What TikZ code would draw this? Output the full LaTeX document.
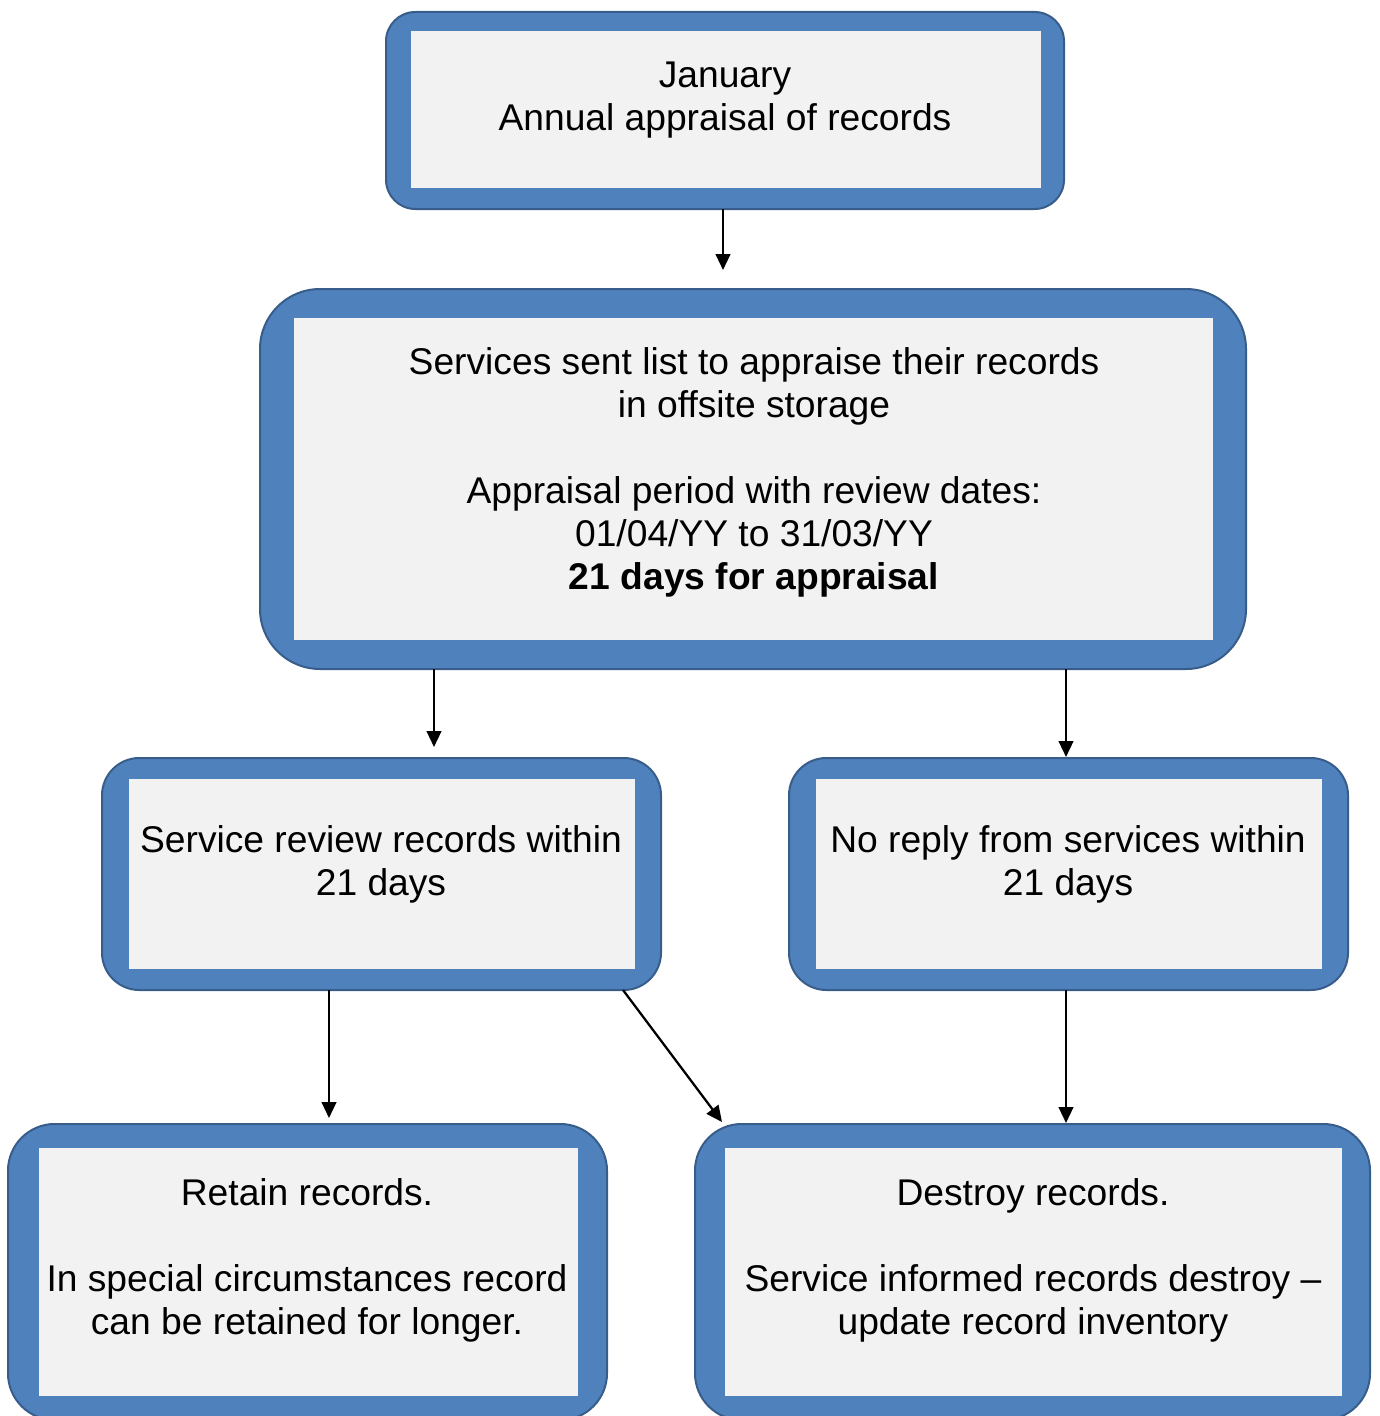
\documentclass[tikz,border=0pt]{standalone}
\usepackage{fontspec}
\setmainfont{Liberation Sans}
\usetikzlibrary{arrows.meta}
\definecolor{bfill}{HTML}{4F81BD}
\definecolor{bline}{HTML}{385D8A}
\definecolor{gfill}{HTML}{F2F2F2}
\begin{document}
\begin{tikzpicture}[x=0.75pt,y=-0.75pt,
  outerbox/.style={rectangle,fill=bfill,draw=bline,line width=1.5pt,inner sep=0pt,outer sep=0pt},
  innerbox/.style={rectangle,fill=gfill,draw=none,inner sep=0pt,outer sep=0pt},
  txt/.style={align=center,inner sep=0pt,font=\fontsize{27.9}{32.25}\selectfont},
  arr/.style={line width=1.7pt,-{Triangle[length=12pt,width=11pt]}}]
\clip (0,0) rectangle (1379,1416);
% box 1
\node[outerbox,rounded corners=22pt,minimum width=678*0.75pt,minimum height=197*0.75pt] (b1) at (725,110.5) {};
\node[innerbox,minimum width=630*0.75pt,minimum height=157*0.75pt] (i1) at (726,109.5) {};
\node[txt] (t1) at (725,100.5) {January\\Annual appraisal of records};
% box 2
\node[outerbox,rounded corners=45pt,minimum width=986*0.75pt,minimum height=380*0.75pt] (b2) at (753,479) {};
\node[innerbox,minimum width=919*0.75pt,minimum height=322*0.75pt] (i2) at (753.5,479) {};
\node[txt] (t2) at (754,472.5) {Services sent list to appraise their records\\in offsite storage\\\mbox{}\\Appraisal period with review dates:\\01/04/YY to 31/03/YY\\\textbf{21 days for appraisal}};
% box 3
\node[outerbox,rounded corners=28pt,minimum width=559*0.75pt,minimum height=232*0.75pt] (b3) at (381.5,874) {};
\node[innerbox,minimum width=506*0.75pt,minimum height=190*0.75pt] (i3) at (382,874) {};
\node[txt] (t3) at (381,864.5) {Service review records within\\21 days};
% box 4
\node[outerbox,rounded corners=28pt,minimum width=559*0.75pt,minimum height=232*0.75pt] (b4) at (1068.5,874) {};
\node[innerbox,minimum width=506*0.75pt,minimum height=190*0.75pt] (i4) at (1069,874) {};
\node[txt] (t4) at (1068,864.5) {No reply from services within\\21 days};
% box 5
\node[outerbox,rounded corners=35pt,minimum width=599*0.75pt,minimum height=296*0.75pt] (b5) at (307.5,1272) {};
\node[innerbox,minimum width=539*0.75pt,minimum height=248*0.75pt] (i5) at (308.5,1272) {};
\node[txt] (t5) at (307,1260.5) {Retain records.\\\mbox{}\\In special circumstances record\\can be retained for longer.};
% box 6
\node[outerbox,rounded corners=35pt,minimum width=675*0.75pt,minimum height=296*0.75pt] (b6) at (1032.5,1272) {};
\node[innerbox,minimum width=617*0.75pt,minimum height=248*0.75pt] (i6) at (1033.5,1272) {};
\node[txt] (t6) at (1033,1260.5) {Destroy records.\\\mbox{}\\Service informed records destroy --\\update record inventory};
% arrow ends
\coordinate (e1) at (723,270);
\coordinate (e2) at (434,747);
\coordinate (e3) at (1066,757);
\coordinate (e4) at (329,1118);
\coordinate (s5) at (623,990);
\coordinate (e5) at (722,1122);
\coordinate (e6) at (1066,1123);
\draw[arr] (b1.south -| e1) -- (e1);
\draw[arr] (b2.south -| e2) -- (e2);
\draw[arr] (b2.south -| e3) -- (e3);
\draw[arr] (b3.south -| e4) -- (e4);
\draw[arr] (b3.south -| s5) -- (e5);
\draw[arr] (b4.south -| e6) -- (e6);
\end{tikzpicture}
\end{document}
